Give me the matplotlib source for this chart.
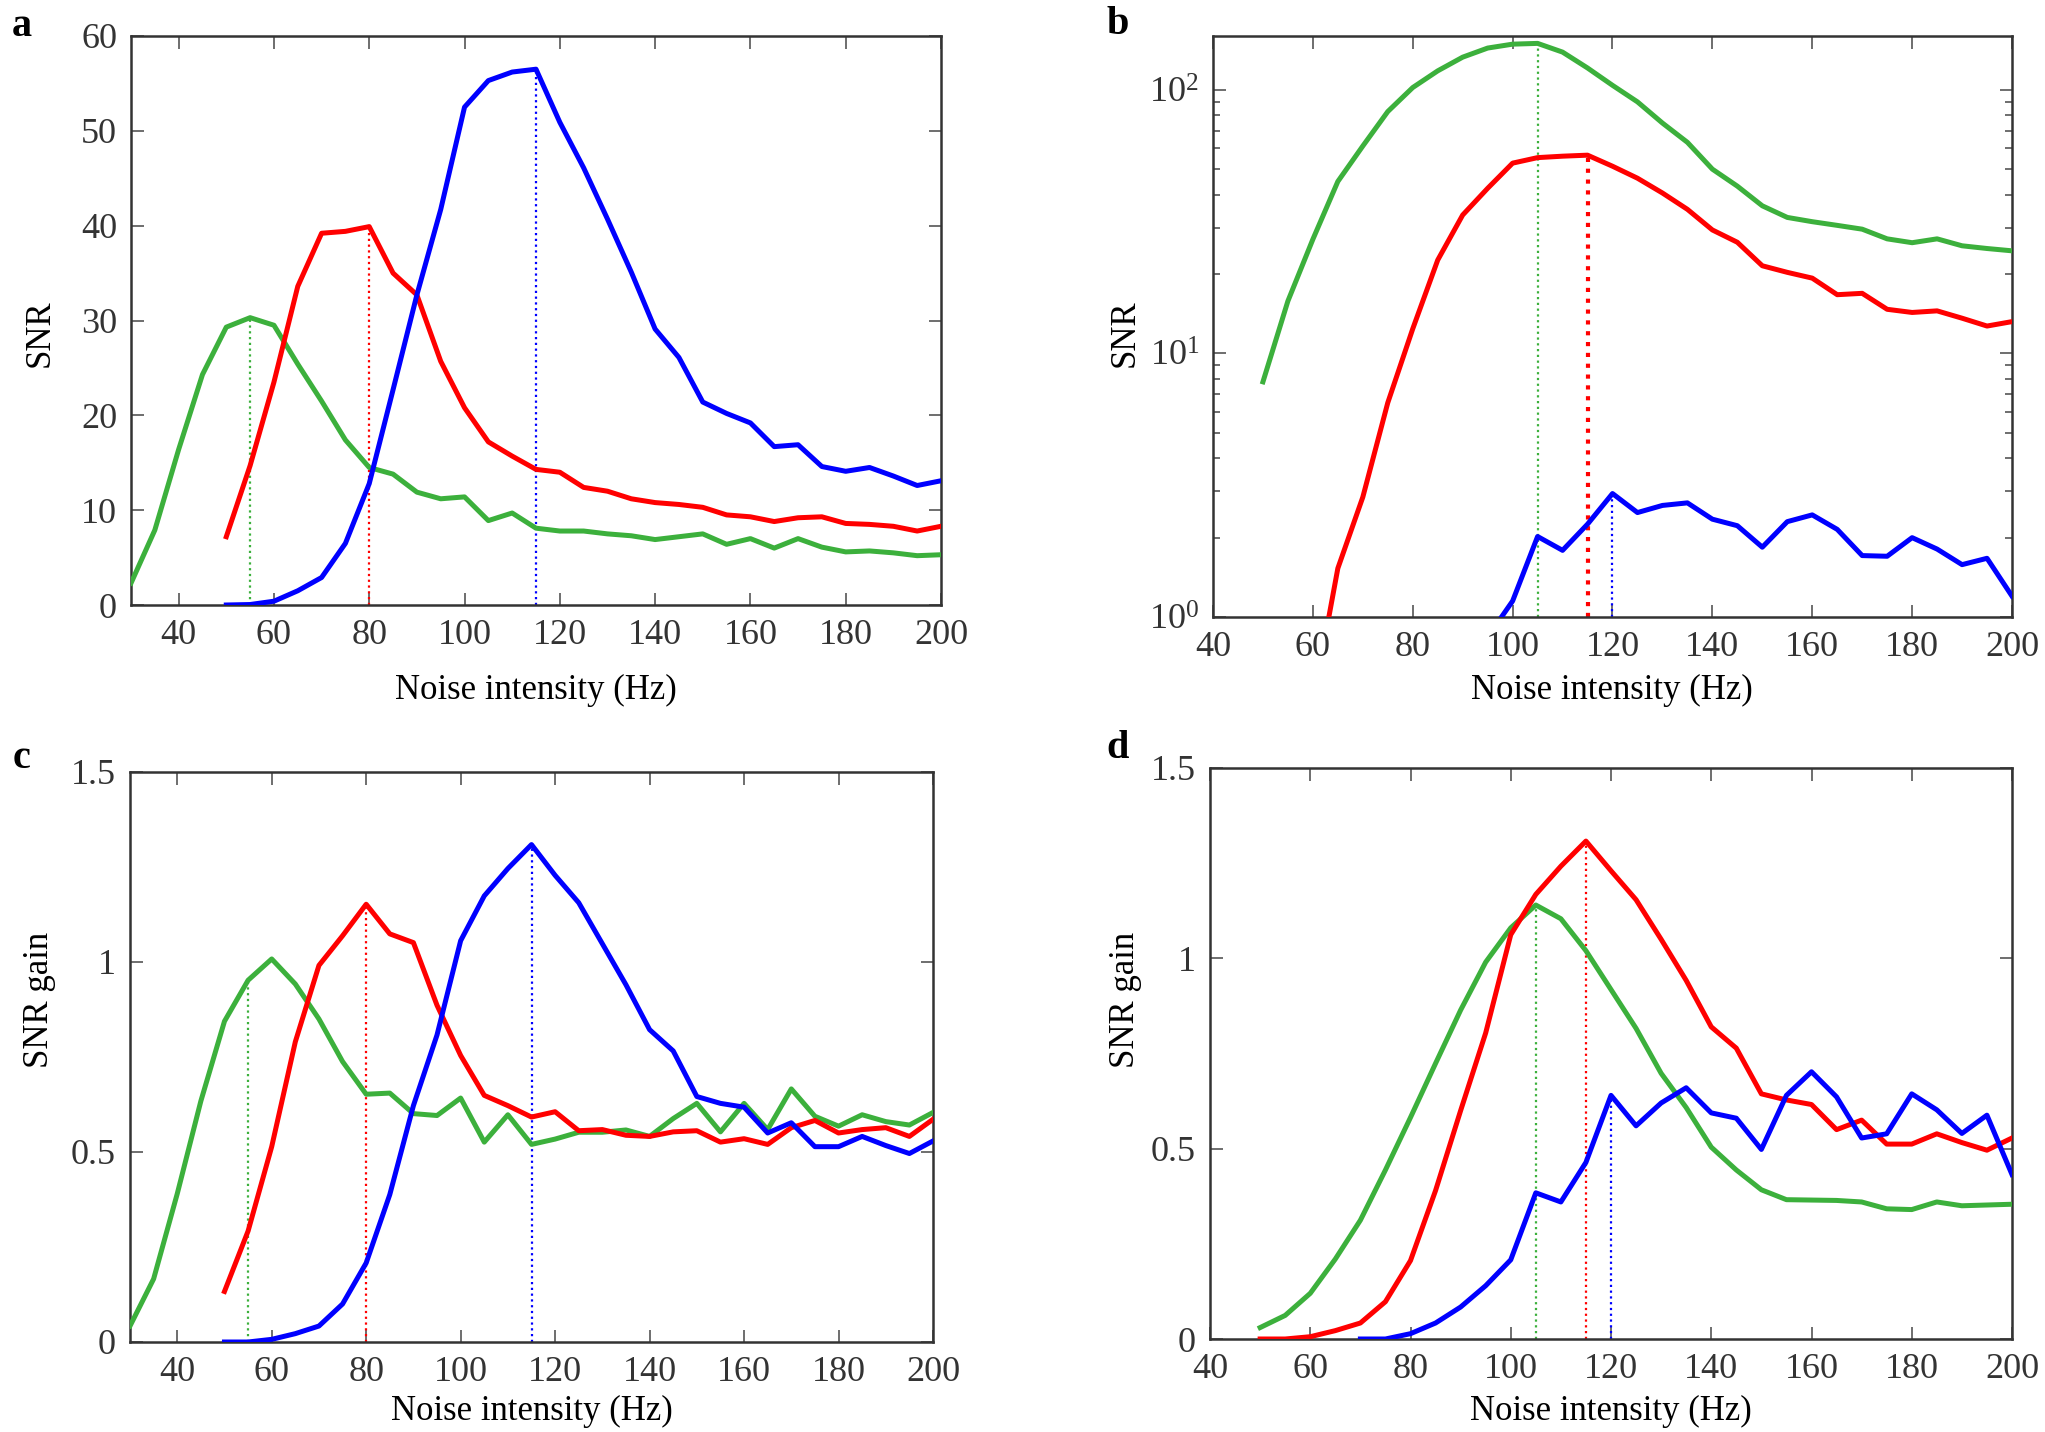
import numpy as np
import matplotlib
matplotlib.use('Agg')
import matplotlib.pyplot as plt

plt.rcParams['font.family'] = ['Liberation Serif', 'DejaVu Serif']
plt.rcParams['mathtext.default'] = 'regular'

GREEN = '#3cb03c'
RED = '#ff0000'
BLUE = '#0000ff'

# noise intensity grids (Hz)
x30 = np.arange(30, 201, 5)
x50 = np.arange(50, 201, 5)
x60 = np.arange(60, 201, 5)
x70 = np.arange(70, 201, 5)
x95 = np.arange(95, 201, 5)

# panel a: SNR
a_green = [2.3, 7.9, 16.4, 24.3, 29.3, 30.3, 29.5, 25.4, 21.5, 17.4, 14.5, 13.8,
           11.9, 11.2, 11.4, 8.9, 9.7, 8.1, 7.8, 7.8, 7.5, 7.3, 6.9, 7.2, 7.5,
           6.4, 7.0, 6.0, 7.0, 6.1, 5.6, 5.7, 5.5, 5.2, 5.3]
a_red = [7.2, 14.7, 23.5, 33.6, 39.2, 39.4, 39.9, 35.0, 32.7, 25.7, 20.8, 17.2,
         15.7, 14.3, 14.0, 12.4, 12.0, 11.2, 10.8, 10.6, 10.3, 9.5, 9.3, 8.8,
         9.2, 9.3, 8.6, 8.5, 8.3, 7.8, 8.3]
a_blue = [0.0, 0.05, 0.4, 1.5, 2.9, 6.5, 12.8, 22.7, 32.7, 41.7, 52.5, 55.3,
          56.2, 56.5, 50.9, 46.1, 40.7, 35.1, 29.1, 26.1, 21.4, 20.2, 19.2,
          16.7, 16.9, 14.6, 14.1, 14.5, 13.6, 12.6, 13.1]

# panel b: SNR (log)
b_green = [7.8, 15.8, 27.1, 44.9, 61.2, 82.7, 102, 118, 133, 144, 149, 150,
           139, 121, 104, 90, 74.8, 63.2, 50.0, 43.1, 36.3, 32.8, 31.6, 30.6,
           29.6, 27.2, 26.3, 27.2, 25.6, 25.0, 24.5]
b_red = [0.47, 1.53, 2.85, 6.5, 12.4, 22.6, 33.5, 42.3, 52.7, 55.3, 56.0, 56.5,
         51.3, 46.2, 40.6, 35.2, 29.4, 26.4, 21.5, 20.3, 19.3, 16.7, 16.9,
         14.7, 14.3, 14.5, 13.6, 12.7, 13.2]
b_blue = [0.84, 1.15, 2.02, 1.79, 2.25, 2.94, 2.49, 2.65, 2.71, 2.35, 2.22,
          1.84, 2.30, 2.44, 2.15, 1.71, 1.70, 2.0, 1.81, 1.58, 1.67, 1.20]

# panel c: SNR gain
c_green = [0.042, 0.166, 0.39, 0.634, 0.844, 0.952, 1.008, 0.942, 0.85, 0.738,
           0.652, 0.655, 0.601, 0.596, 0.642, 0.526, 0.598, 0.520, 0.534, 0.552,
           0.552, 0.558, 0.541, 0.588, 0.628, 0.553, 0.628, 0.559, 0.666, 0.594,
           0.568, 0.598, 0.580, 0.571, 0.604]
c_red = [0.133, 0.292, 0.514, 0.790, 0.991, 1.069, 1.152, 1.074, 1.051, 0.886,
         0.754, 0.649, 0.622, 0.592, 0.606, 0.556, 0.559, 0.544, 0.541, 0.553,
         0.556, 0.526, 0.535, 0.520, 0.564, 0.583, 0.550, 0.559, 0.564, 0.541,
         0.586]
c_blue = [0.0, 0.0, 0.007, 0.022, 0.042, 0.10, 0.208, 0.388, 0.622, 0.808,
          1.056, 1.174, 1.246, 1.309, 1.228, 1.156, 1.048, 0.940, 0.822, 0.766,
          0.646, 0.628, 0.618, 0.550, 0.577, 0.514, 0.514, 0.541, 0.517, 0.496,
          0.529]

# panel d: SNR gain
d_green = [0.03, 0.062, 0.12, 0.21, 0.312, 0.444, 0.582, 0.724, 0.864, 0.99,
           1.08, 1.14, 1.104, 1.02, 0.918, 0.816, 0.698, 0.608, 0.504, 0.444,
           0.392, 0.366, 0.365, 0.364, 0.36, 0.342, 0.34, 0.36, 0.35, 0.352,
           0.354]
d_red = [0.0, 0.0, 0.006, 0.022, 0.042, 0.098, 0.206, 0.39, 0.60, 0.804, 1.062,
         1.168, 1.242, 1.308, 1.23, 1.154, 1.05, 0.942, 0.82, 0.764, 0.644,
         0.628, 0.616, 0.55, 0.575, 0.512, 0.512, 0.539, 0.516, 0.496, 0.528]
d_blue = [0.0, 0.0, 0.014, 0.042, 0.084, 0.14, 0.208, 0.384, 0.36, 0.464, 0.64,
          0.56, 0.62, 0.66, 0.594, 0.58, 0.498, 0.64, 0.702, 0.636, 0.528,
          0.539, 0.644, 0.602, 0.54, 0.588, 0.432]

# x of the dotted markers (green, red, blue)
peaks_top = [55, 80, 115]
peaks_bottom = [105, 115, 120]

W, H = 2045, 1432
fig = plt.figure(figsize=(W / 100, H / 100), dpi=100)


def box(l, t, r, b):
    return [l / W, 1 - b / H, (r - l) / W, (b - t) / H]


def style(ax):
    for s in ax.spines.values():
        s.set_linewidth(1.8)
        s.set_color('#333333')
    ax.tick_params(which='both', direction='in', top=True, right=True,
                   labelsize=26, labelcolor='#333333', color='#555555', width=1.2)
    ax.tick_params(which='major', length=9, pad=10)
    ax.tick_params(which='minor', length=5)


def draw(ax, series, peaks, ybottom, red_lw=1.6):
    for (xs, ys, c), px in zip(series, peaks):
        ax.plot(xs, ys, color=c, lw=3.6, zorder=3)
        yv = ys[list(xs).index(px)]
        lw = red_lw if c == RED else 1.6
        ax.vlines(px, ybottom, yv, colors=c, linestyles=(0, (1, 1.6)), lw=lw, zorder=2)


ax_a = fig.add_axes(box(131, 36, 941, 605))
draw(ax_a, [(x30, a_green, GREEN), (x50, a_red, RED), (x50, a_blue, BLUE)], peaks_top, 0)
ax_a.set_xlim(30, 200)
ax_a.set_ylim(0, 60)
ax_a.set_xticks(range(40, 201, 20))
ax_a.set_yticks(range(0, 61, 10))
style(ax_a)

ax_b = fig.add_axes(box(1213, 36, 2012, 617))
ax_b.set_yscale('log')
draw(ax_b, [(x50, b_green, GREEN), (x60, b_red, RED), (x95, b_blue, BLUE)], peaks_bottom, 1,
     red_lw=3.0)
ax_b.set_xlim(40, 200)
ax_b.set_ylim(1, 160)
ax_b.set_xticks(range(40, 201, 20))
style(ax_b)

ax_c = fig.add_axes(box(130, 772, 933, 1342))
draw(ax_c, [(x30, c_green, GREEN), (x50, c_red, RED), (x50, c_blue, BLUE)], peaks_top, 0)
ax_c.set_xlim(30, 200)
ax_c.set_ylim(0, 1.5)
ax_c.set_xticks(range(40, 201, 20))
ax_c.set_yticks([0, 0.5, 1, 1.5])
ax_c.set_yticklabels(['0', '0.5', '1', '1.5'])
style(ax_c)

ax_d = fig.add_axes(box(1210, 768, 2012, 1339))
draw(ax_d, [(x50, d_green, GREEN), (x50, d_red, RED), (x70, d_blue, BLUE)], peaks_bottom, 0)
ax_d.set_xlim(40, 200)
ax_d.set_ylim(0, 1.5)
ax_d.set_xticks(range(40, 201, 20))
ax_d.set_yticks([0, 0.5, 1, 1.5])
ax_d.set_yticklabels(['0', '0.5', '1', '1.5'])
style(ax_d)


def ftext(x, y, s, **kw):
    fig.text(x / W, 1 - y / H, s, **kw)


for x, y, s in [(12, 26, 'a'), (1107, 24, 'b'), (13, 758, 'c'), (1106, 748, 'd')]:
    ftext(x, y, s, fontsize=29, fontweight='bold', ha='left', va='center')

for x, y in [(536, 690), (1612, 690), (532, 1411), (1611, 1411)]:
    ftext(x, y, 'Noise intensity (Hz)', fontsize=25, ha='center', va='center')

ftext(40, 333, 'SNR', fontsize=25, rotation=90, ha='center', va='center')
ftext(1125, 333, 'SNR', fontsize=25, rotation=90, ha='center', va='center')
ftext(40, 1000, 'SNR gain', fontsize=25, rotation=90, ha='center', va='center')
ftext(1125, 1000, 'SNR gain', fontsize=25, rotation=90, ha='center', va='center')

fig.savefig('out.png', dpi=100, facecolor='white')
